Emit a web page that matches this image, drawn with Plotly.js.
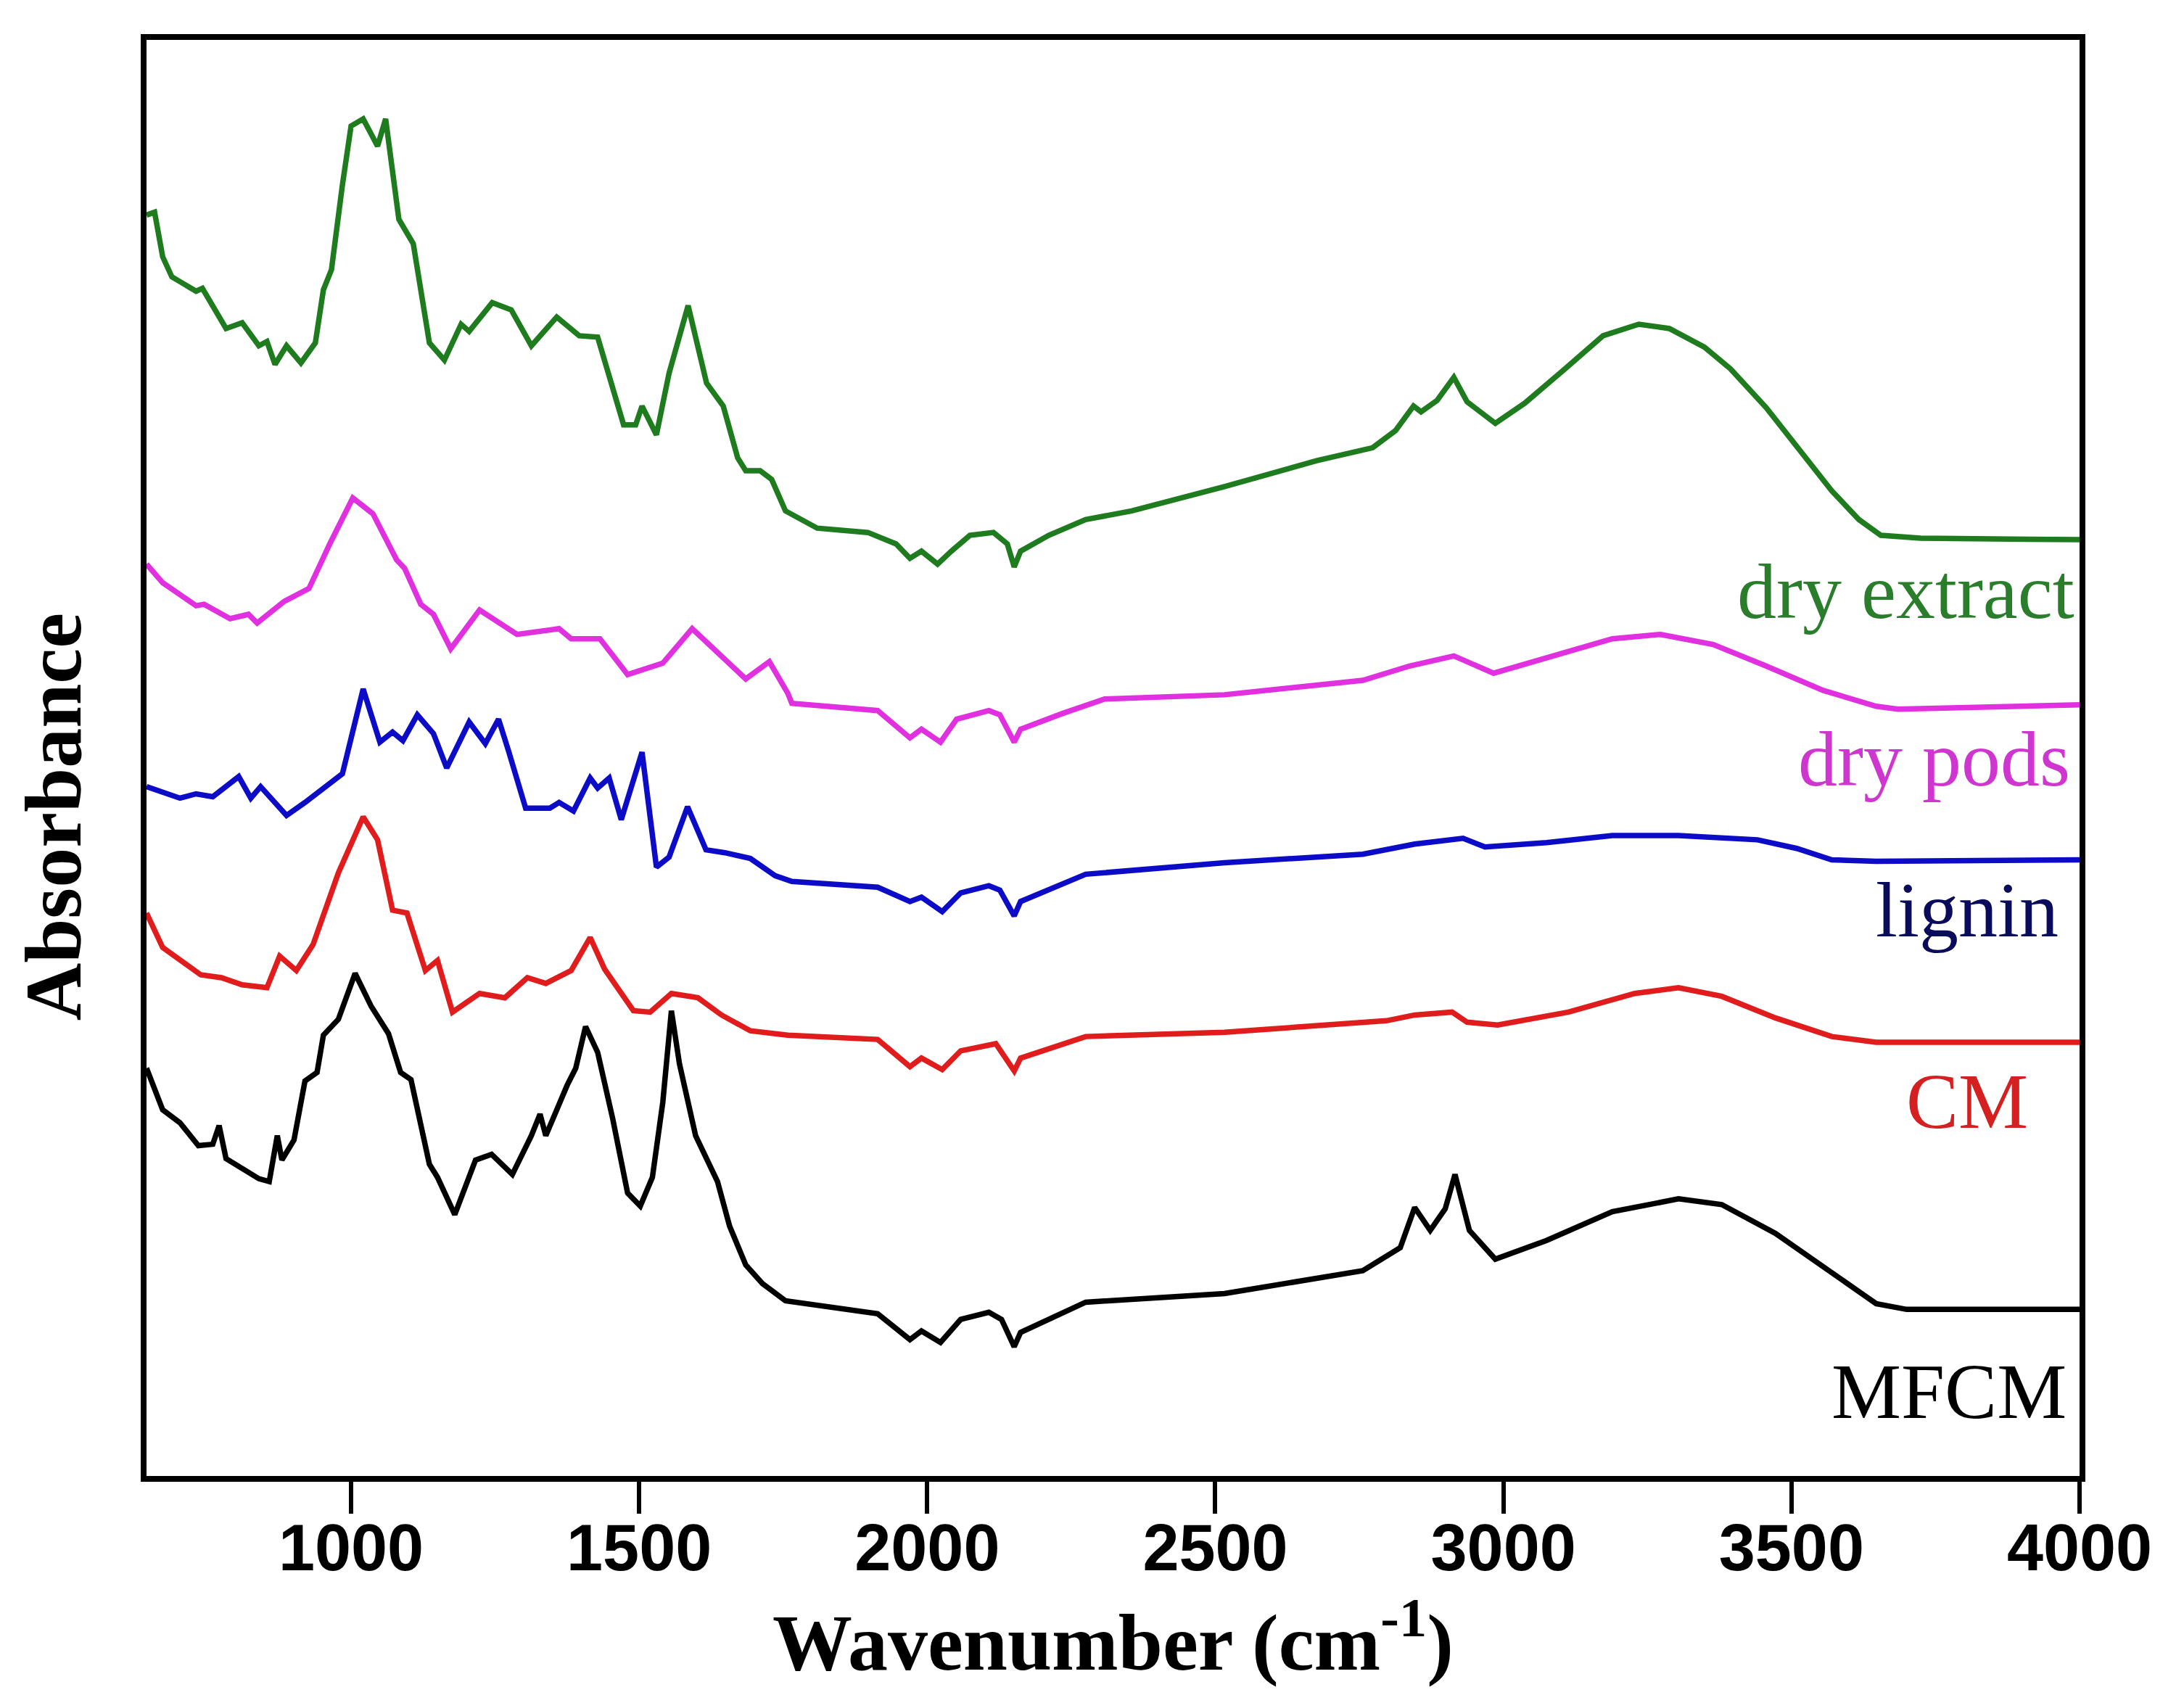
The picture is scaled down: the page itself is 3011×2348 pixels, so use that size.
<!DOCTYPE html>
<html lang="en">
<head>
    <meta charset="UTF-8">
    <title>FTIR spectra</title>
    <script src="https://cdn.plot.ly/plotly-3.0.1.min.js"></script>
    <style>
        body { margin: 0; background: white; }
    </style>
</head>

<body>

<div id="plot"></div>

<script>
    // wavenumber (cm-1) / absorbance (a.u., offset)
    const wnExtract = [645, 659, 673, 689, 731, 742, 783, 811, 840, 854, 868, 888, 913, 938, 952, 966, 985, 1000, 1021, 1046, 1060, 1083, 1108, 1136, 1162, 1191, 1205, 1245, 1278, 1313, 1357, 1396, 1428, 1473, 1494, 1505, 1530, 1552, 1585, 1617, 1646, 1671, 1685, 1710, 1730, 1754, 1809, 1897, 1946, 1970, 1990, 2018, 2042, 2074, 2115, 2139, 2151, 2162, 2211, 2275, 2355, 2516, 2676, 2773, 2813, 2844, 2857, 2885, 2914, 2937, 2986, 3037, 3113, 3173, 3235, 3288, 3349, 3394, 3456, 3517, 3570, 3617, 3655, 3724, 4000]
    const absExtract = [0.878, 0.880, 0.849, 0.835, 0.825, 0.827, 0.799, 0.803, 0.787, 0.790, 0.774, 0.787, 0.775, 0.789, 0.826, 0.840, 0.899, 0.940, 0.945, 0.926, 0.945, 0.875, 0.858, 0.789, 0.777, 0.802, 0.797, 0.817, 0.812, 0.787, 0.807, 0.794, 0.793, 0.732, 0.732, 0.745, 0.725, 0.768, 0.815, 0.761, 0.745, 0.709, 0.700, 0.700, 0.694, 0.672, 0.660, 0.657, 0.649, 0.639, 0.644, 0.635, 0.644, 0.655, 0.657, 0.649, 0.633, 0.644, 0.655, 0.666, 0.672, 0.689, 0.707, 0.716, 0.728, 0.745, 0.741, 0.749, 0.765, 0.748, 0.733, 0.747, 0.773, 0.794, 0.802, 0.799, 0.786, 0.771, 0.744, 0.713, 0.686, 0.666, 0.655, 0.653, 0.652]

    const wnPods = [645, 673, 731, 745, 790, 822, 837, 884, 927, 963, 1003, 1038, 1079, 1093, 1121, 1143, 1173, 1223, 1288, 1361, 1382, 1432, 1480, 1541, 1592, 1636, 1685, 1726, 1758, 1765, 1914, 1970, 1990, 2023, 2051, 2107, 2126, 2151, 2162, 2235, 2308, 2516, 2756, 2837, 2914, 2983, 3075, 3189, 3273, 3364, 3456, 3555, 3647, 3685, 4000]
    const absPods = [0.635, 0.622, 0.606, 0.607, 0.597, 0.600, 0.594, 0.609, 0.618, 0.649, 0.681, 0.670, 0.638, 0.632, 0.607, 0.600, 0.576, 0.603, 0.586, 0.590, 0.583, 0.583, 0.558, 0.566, 0.590, 0.573, 0.555, 0.567, 0.545, 0.538, 0.533, 0.514, 0.520, 0.511, 0.527, 0.533, 0.530, 0.511, 0.520, 0.531, 0.541, 0.544, 0.554, 0.564, 0.571, 0.559, 0.570, 0.583, 0.586, 0.579, 0.564, 0.547, 0.536, 0.534, 0.537]

    const wnLignin = [645, 703, 731, 760, 805, 826, 843, 888, 920, 963, 985, 1021, 1050, 1072, 1090, 1115, 1143, 1166, 1205, 1233, 1256, 1274, 1303, 1345, 1361, 1386, 1415, 1428, 1448, 1469, 1505, 1530, 1552, 1584, 1616, 1649, 1693, 1736, 1765, 1914, 1970, 1990, 2026, 2058, 2107, 2126, 2151, 2162, 2275, 2516, 2756, 2846, 2930, 2968, 3075, 3189, 3304, 3441, 3509, 3570, 3647, 4000]
    const absLignin = [0.480, 0.472, 0.475, 0.473, 0.487, 0.472, 0.480, 0.460, 0.469, 0.482, 0.489, 0.548, 0.511, 0.518, 0.512, 0.530, 0.517, 0.493, 0.525, 0.510, 0.527, 0.504, 0.465, 0.465, 0.469, 0.463, 0.486, 0.479, 0.486, 0.457, 0.504, 0.424, 0.431, 0.466, 0.436, 0.434, 0.430, 0.418, 0.414, 0.410, 0.400, 0.403, 0.393, 0.406, 0.411, 0.408, 0.390, 0.400, 0.419, 0.427, 0.433, 0.440, 0.444, 0.438, 0.441, 0.446, 0.446, 0.443, 0.437, 0.429, 0.428, 0.429]

    const wnCM = [645, 673, 739, 775, 811, 854, 876, 905, 934, 978, 1021, 1046, 1072, 1097, 1129, 1150, 1176, 1223, 1267, 1306, 1338, 1382, 1415, 1440, 1490, 1519, 1556, 1602, 1643, 1693, 1758, 1914, 1970, 1990, 2026, 2058, 2119, 2151, 2162, 2275, 2516, 2797, 2846, 2911, 2937, 2990, 3113, 3228, 3304, 3379, 3472, 3570, 3647, 4000]
    const absCM = [0.392, 0.368, 0.349, 0.347, 0.342, 0.340, 0.362, 0.352, 0.370, 0.420, 0.459, 0.443, 0.394, 0.392, 0.352, 0.359, 0.323, 0.336, 0.333, 0.347, 0.343, 0.352, 0.375, 0.353, 0.324, 0.323, 0.336, 0.333, 0.321, 0.310, 0.307, 0.304, 0.285, 0.291, 0.283, 0.296, 0.301, 0.282, 0.291, 0.306, 0.309, 0.317, 0.321, 0.323, 0.316, 0.314, 0.323, 0.336, 0.340, 0.334, 0.319, 0.306, 0.302, 0.302]

    const wnMFCM = [645, 673, 703, 735, 760, 771, 783, 811, 840, 858, 872, 880, 901, 920, 941, 952, 978, 1007, 1035, 1065, 1086, 1104, 1136, 1150, 1180, 1216, 1244, 1280, 1313, 1328, 1338, 1375, 1390, 1407, 1428, 1454, 1480, 1502, 1523, 1541, 1556, 1570, 1598, 1636, 1657, 1685, 1714, 1754, 1914, 1970, 1990, 2023, 2058, 2107, 2129, 2151, 2162, 2275, 2516, 2756, 2821, 2846, 2873, 2899, 2916, 2941, 2986, 3075, 3189, 3304, 3379, 3472, 3570, 3647, 3700, 4000]
    const absMFCM = [0.284, 0.255, 0.246, 0.230, 0.231, 0.244, 0.221, 0.214, 0.207, 0.205, 0.237, 0.220, 0.234, 0.275, 0.281, 0.307, 0.318, 0.350, 0.327, 0.308, 0.281, 0.276, 0.217, 0.208, 0.182, 0.220, 0.224, 0.210, 0.237, 0.252, 0.237, 0.272, 0.284, 0.313, 0.295, 0.249, 0.197, 0.188, 0.208, 0.260, 0.324, 0.287, 0.237, 0.205, 0.174, 0.147, 0.134, 0.122, 0.113, 0.095, 0.101, 0.093, 0.109, 0.114, 0.109, 0.090, 0.100, 0.121, 0.127, 0.143, 0.159, 0.187, 0.171, 0.186, 0.210, 0.171, 0.151, 0.164, 0.184, 0.193, 0.189, 0.169, 0.141, 0.120, 0.116, 0.116]

    const names = ['dry extract', 'dry pods', 'lignin', 'CM', 'MFCM']
    const lineColors = ['#1e7b1e', '#e030e0', '#0c0cc8', '#e01c1c', '#000000']
    const textColors = ['#2a7d2a', '#cf35cf', '#0b0b5c', '#d42020', '#000000']
    const xs = [wnExtract, wnPods, wnLignin, wnCM, wnMFCM]
    const ys = [absExtract, absPods, absLignin, absCM, absMFCM]

    // label anchor spots (paper coords), right aligned
    const labelX = [0.998, 0.996, 0.990, 0.974, 0.994]
    const labelY = [0.616, 0.499, 0.394, 0.261, 0.059]

    const data = names.map((n, i) => ({
        x: xs[i],
        y: ys[i],
        mode: 'lines',
        type: 'scatter',
        name: n,
        line: {color: lineColors[i], width: 7.5},
    }))

    const annotations = names.map((n, i) => ({
        text: n,
        xref: 'paper', yref: 'paper',
        x: labelX[i], y: labelY[i],
        xanchor: 'right', yanchor: 'middle',
        showarrow: false,
        font: {family: 'Liberation Serif', size: 108, color: textColors[i]},
    }))

    annotations.push({
        text: '<b>Wavenumber (cm<sup>-1</sup>)</b>',
        xref: 'paper', yref: 'paper',
        x: 0.5, y: -0.112,
        xanchor: 'center', yanchor: 'middle',
        showarrow: false,
        font: {family: 'Liberation Serif', size: 110, color: 'black'},
    })
    annotations.push({
        text: '<b>Absorbance</b>',
        xref: 'paper', yref: 'paper',
        x: -0.048, y: 0.459,
        xanchor: 'center', yanchor: 'middle',
        textangle: -90,
        showarrow: false,
        font: {family: 'Liberation Serif', size: 110, color: 'black'},
    })

    const layout = {
        width: 3011,
        height: 2348,
        margin: {l: 202, r: 144, t: 55, b: 313},
        paper_bgcolor: 'white',
        plot_bgcolor: 'white',
        showlegend: false,
        xaxis: {
            range: [645, 4000],
            tickvals: [1000, 1500, 2000, 2500, 3000, 3500, 4000],
            ticks: 'outside',
            ticklen: 44,
            tickwidth: 6,
            tickcolor: 'black',
            ticklabelstandoff: -30,
            showline: true,
            linewidth: 8,
            linecolor: 'black',
            mirror: true,
            showgrid: false,
            zeroline: false,
            tickfont: {family: 'Liberation Sans', size: 90, color: 'black', weight: 'bold'},
        },
        yaxis: {
            range: [0, 1],
            showticklabels: false,
            ticks: '',
            showline: true,
            linewidth: 8,
            linecolor: 'black',
            mirror: true,
            showgrid: false,
            zeroline: false,
        },
        annotations: annotations,
    }

    Plotly.newPlot('plot', data, layout, {staticPlot: true})
</script>

</body>
</html>
